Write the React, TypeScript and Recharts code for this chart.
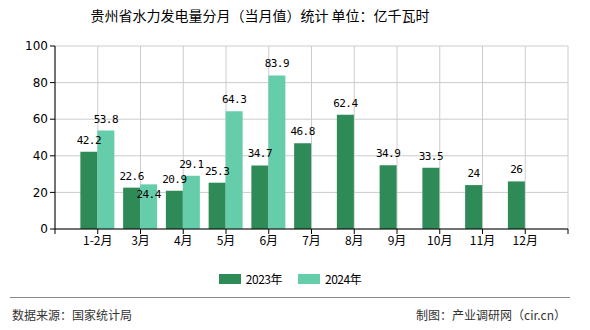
import React from 'react';
import { BarChart, Bar, XAxis, YAxis, CartesianGrid, LabelList } from 'recharts';

const categories = ['1-2月', '3月', '4月', '5月', '6月', '7月', '8月', '9月', '10月', '11月', '12月'];
const values2023 = [42.2, 22.6, 20.9, 25.3, 34.7, 46.8, 62.4, 34.9, 33.5, 24, 26];
const values2024: (number | null)[] = [53.8, 24.4, 29.1, 64.3, 83.9, null, null, null, null, null, null];
const yTicks = [0, 20, 40, 60, 80, 100];
const seriesNames = ['2023年', '2024年'];
const colors = ['#2E8B57', '#66CDAA'];

const data = categories.map((c, i) => ({
  pos: i + 1,
  name: c,
  v2023: values2023[i],
  v2024: values2024[i],
}));

const xTicks = [0, ...categories.map((_, i) => i + 1), categories.length + 1];

const labelFont = '"DejaVu Sans Mono", monospace';

const Label2023 = (props: any) => {
  const { x, y, width, value } = props;
  if (value == null) return null;
  return (
    <text x={x + width / 2} y={y - 8} textAnchor="middle" fontSize={11} fontFamily={labelFont} fill="#000" letterSpacing={-0.5}>
      {value}
    </text>
  );
};

const Label2024 = (props: any) => {
  const { x, y, width, height, value, index } = props;
  if (value == null) return null;
  const bottom = y + height;
  const other = values2023[index];
  const y23 = bottom - (other * height) / value;
  let ly = y - 8;
  const l23 = y23 - 8;
  if (Math.abs(ly - l23) < 12) ly = l23 + 18;
  return (
    <text x={x + width / 2} y={ly} textAnchor="middle" fontSize={11} fontFamily={labelFont} fill="#000" letterSpacing={-0.5}>
      {value}
    </text>
  );
};

export default function App() {
  return (
    <div style={{ position: 'absolute', left: 0, top: 0, width: 590, height: 330, background: '#fff', fontFamily: '"Noto Sans CJK SC", sans-serif' }}>
      <div style={{ position: 'absolute', left: 0, top: 5, width: 520, textAlign: 'center', fontSize: 14, color: '#000', lineHeight: '20px' }}>
        贵州省水力发电量分月（当月值）统计 单位：亿千瓦时
      </div>
      <div style={{ position: 'absolute', left: 0, top: 0 }}>
        <BarChart width={590} height={330} data={data} margin={{ top: 46, right: 22, left: 10, bottom: 71 }} barGap={0}>
          <CartesianGrid stroke="#cccccc" strokeWidth={1} />
          <XAxis
            dataKey="pos"
            type="number"
            domain={[0, categories.length + 1]}
            ticks={xTicks}
            interval={0}
            height={30}
            tickFormatter={(v: number) => (v >= 1 && v <= categories.length ? categories[v - 1] : '')}
            axisLine={{ stroke: '#000' }}
            tickLine={{ stroke: '#000' }}
            tickSize={5}
            tick={{ fontSize: 12, fill: '#000', fontFamily: '"Noto Sans CJK SC", sans-serif' }}
          />
          <YAxis
            domain={[0, 100]}
            ticks={yTicks}
            width={45}
            axisLine={{ stroke: '#000' }}
            tickLine={{ stroke: '#000' }}
            tickSize={5}
            tick={{ fontSize: 12, fill: '#000', fontFamily: '"DejaVu Sans", sans-serif' }}
          />
          <Bar dataKey="v2023" fill={colors[0]} barSize={17} isAnimationActive={false}>
            <LabelList dataKey="v2023" content={<Label2023 />} />
          </Bar>
          <Bar dataKey="v2024" fill={colors[1]} barSize={17} isAnimationActive={false}>
            <LabelList dataKey="v2024" content={<Label2024 />} />
          </Bar>
        </BarChart>
      </div>
      <div style={{ position: 'absolute', left: 0, top: 270, width: 580, display: 'flex', justifyContent: 'center', alignItems: 'center', fontSize: 12, fontFamily: '"Liberation Sans", Arial, sans-serif', color: '#000' }}>
        {seriesNames.map((n, i) => (
          <div key={n} style={{ display: 'flex', alignItems: 'center', marginLeft: i ? 16 : 0 }}>
            <span style={{ display: 'inline-block', width: 22, height: 10, background: colors[i], marginRight: 5 }} />
            <span style={{ fontFamily: '"Noto Sans CJK SC", sans-serif', letterSpacing: -0.5 }}>{n}</span>
          </div>
        ))}
      </div>
      <div style={{ position: 'absolute', left: 10, top: 297, width: 560, height: 1, background: '#888' }} />
      <div style={{ position: 'absolute', left: 12, top: 306, fontSize: 12, color: '#333', lineHeight: '18px' }}>数据来源：国家统计局</div>
      <div style={{ position: 'absolute', right: 24, top: 306, fontSize: 12, color: '#333', lineHeight: '18px' }}>制图：产业调研网（cir.cn）</div>
    </div>
  );
}
